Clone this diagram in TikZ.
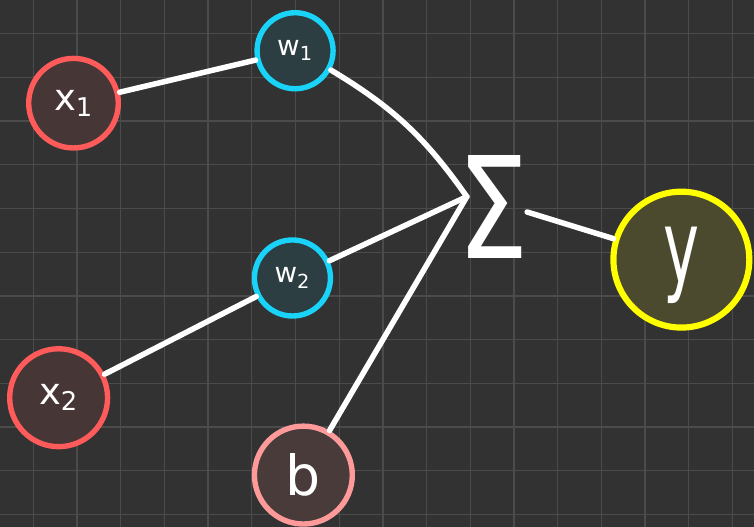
\documentclass[tikz,border=0pt]{standalone}
\usepackage{fontspec}
\setmainfont{DejaVu Sans}
\usepackage{xcolor}

\definecolor{tlo}{HTML}{323232}
\definecolor{siatka}{HTML}{4B4B4B}
\definecolor{czerw}{HTML}{FF5B5B}
\definecolor{czerwtlo}{HTML}{473636}
\definecolor{niebie}{HTML}{19D3F8}
\definecolor{niebietlo}{HTML}{2C3E42}
\definecolor{roz}{HTML}{FF9A9A}
\definecolor{roztlo}{HTML}{4A3B3B}
\definecolor{zolty}{HTML}{FFFF00}
\definecolor{zoltytlo}{HTML}{4B4A2F}

\begin{document}
\begin{tikzpicture}[scale=1, every node/.style={circle, draw, line width=3.5pt, text=white, inner sep=0pt},
    wejscie/.style={draw=czerw, fill=czerwtlo, font=\fontsize{24}{24}\selectfont},
    waga/.style={draw=niebie, fill=niebietlo, minimum size=1.74cm, font=\fontsize{18}{18}\selectfont},
    wire/.style={white, line width=3.6pt, line cap=round}]
    % Tlo i siatka
    \fill[tlo] (-0.762,-11.288) rectangle (16.492,0.771);
    \useasboundingbox (-0.762,-11.288) rectangle (16.492,0.771);
    \draw[siatka, line width=0.9pt] (-0.762,-11.288) grid (16.492,0.771);

    % Wezly
    \node[wejscie, minimum size=2.05cm] (x1) at (0.92, -1.59) {x\textsubscript{1}};
    \node[wejscie, minimum size=2.24cm] (x2) at (0.58, -8.33) {x\textsubscript{2}};
    \node[waga] (w1) at (5.99, -0.39) {w\textsubscript{1}};
    \node[waga] (w2) at (5.93, -5.59) {w\textsubscript{2}};
    \node[draw=roz, fill=roztlo, minimum size=2.24cm, font=\fontsize{36}{36}\selectfont] (b) at (6.18, -10.10) {b};
    \node[draw=zolty, fill=zoltytlo, line width=4pt, minimum size=3.11cm, font=\fontsize{66}{66}\selectfont] (y) at (14.83, -5.17) {\raisebox{-15pt}[0pt][0pt]{\scalebox{0.6}[1]{y}}};
    \node[draw=none, font=\fontsize{92}{92}\selectfont] (sum) at (10.52, -3.97) {\scalebox{0.8}[1]{Σ}};
    \coordinate (sumin) at (9.92, -3.73);
    \coordinate (sumout) at (11.30, -4.08);

    % Polaczenia
    \draw[wire] (x1) -- (w1);
    \draw[wire] (x2) -- (w2);
    \draw[wire] (w1) to[bend left=12] (sumin);
    \draw[wire] (w2) -- (sumin);
    \draw[wire] (b) -- (sumin);
    \draw[wire] (sumout) -- (y);
\end{tikzpicture}
\end{document}
